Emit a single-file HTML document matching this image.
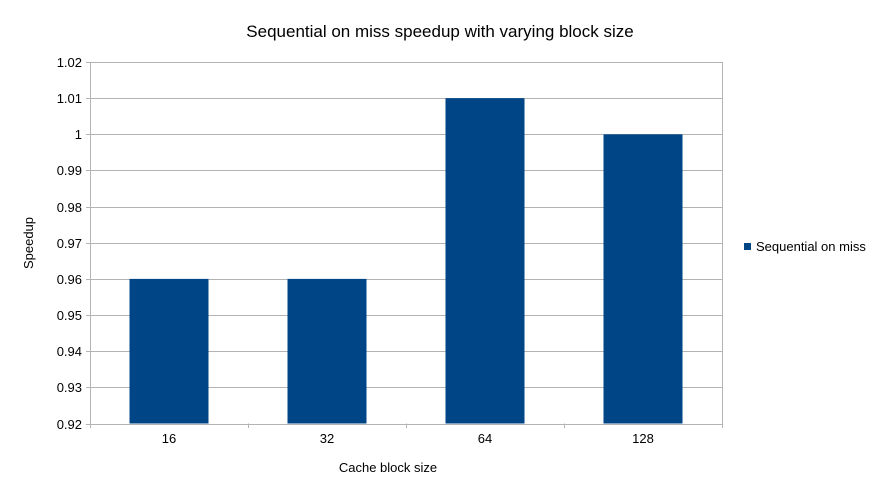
<!DOCTYPE html>
<html><head><meta charset="utf-8"><style>
body{margin:0;background:#fff;}
svg{display:block;font-family:"Liberation Sans",sans-serif;}
</style></head><body>
<svg id="chart" width="879" height="494" viewBox="0 0 879 494">
<rect width="879" height="494" fill="#fff"/>
<text x="440" y="37" text-anchor="middle" font-size="17" fill="#000">Sequential on miss speedup with varying block size</text>
<g id="grid"></g><g id="bars"></g><g id="axes"></g>
<text x="388" y="472" text-anchor="middle" font-size="13">Cache block size</text>
<text transform="translate(33,243) rotate(-90)" text-anchor="middle" font-size="13">Speedup</text>
<g>
<rect x="744" y="243" width="7" height="7" fill="#004586"/>
<text x="756" y="251" font-size="13">Sequential on miss</text>
</g>
</svg>
<script>
const categories=["16","32","64","128"];
const values=[0.96,0.96,1.01,1.0];
const yTicks=["0.92","0.93","0.94","0.95","0.96","0.97","0.98","0.99","1","1.01","1.02"];
const L=90,R=722,T=62,B=423.5,yMin=0.92,yMax=1.02;
const ns="http://www.w3.org/2000/svg";
function y(v){return B-(v-yMin)/(yMax-yMin)*(B-T);}
const bw=(R-L)/categories.length;
function x(i){return L+bw*i;}
function mk(tag,attrs,parent){const e=document.createElementNS(ns,tag);for(const k in attrs)e.setAttribute(k,attrs[k]);document.getElementById(parent).appendChild(e);return e;}
yTicks.forEach(t=>{const v=parseFloat(t),yy=Math.round(y(v))+0.5;
 const g=mk("line",{x1:86,x2:R,y1:yy,y2:yy,stroke:"#b3b3b3","stroke-width":1},"grid");
 
 
 const tx=mk("text",{x:82,y:yy+4.5,"text-anchor":"end","font-size":13},"axes");tx.textContent=t;
 
 
});
for(let i=0;i<=categories.length;i++){const xx=Math.round(x(i))+0.5;
 const l=mk("line",{x1:xx,x2:xx,y1:i==0||i==categories.length?T:B,y2:428,stroke:"#b3b3b3"},"grid");
 
 
}
categories.forEach((c,i)=>{
 const b=mk("rect",{x:x(i)+bw/4,y:y(values[i]),width:bw/2,height:B-y(values[i]),fill:"#004586"},"bars");
 
 
 const t=mk("text",{x:x(i)+bw/2,y:443,"text-anchor":"middle","font-size":13},"axes");t.textContent=c;
 
 
});
</script>
</body></html>
